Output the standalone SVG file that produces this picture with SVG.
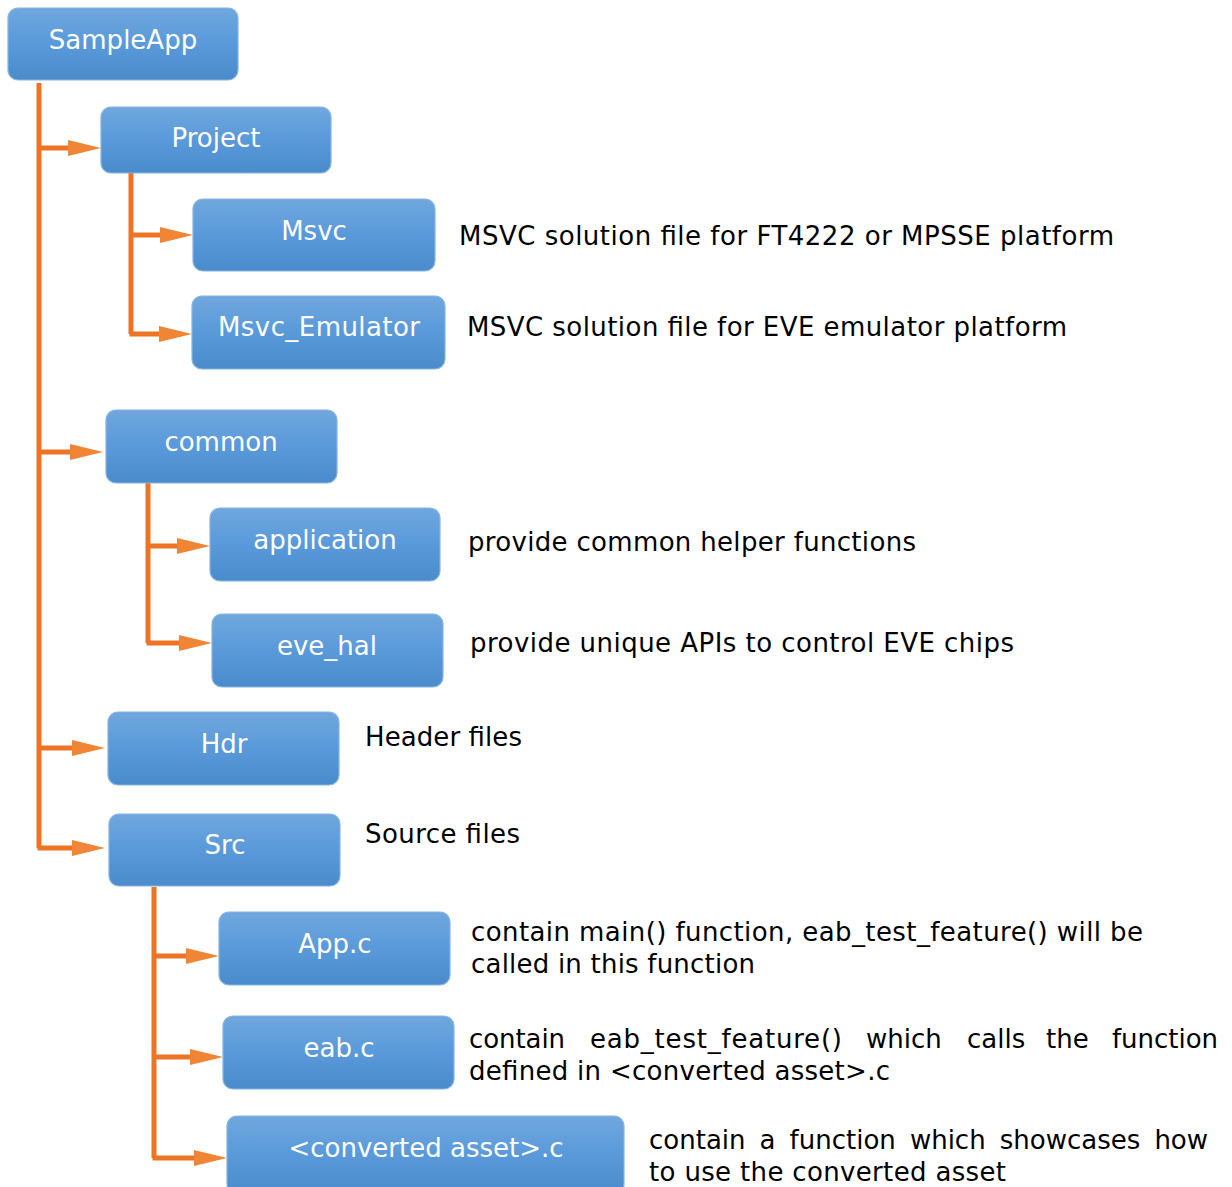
<svg xmlns="http://www.w3.org/2000/svg" width="1232" height="1187" viewBox="0 0 1232 1187">
<defs>
<linearGradient id="bg" x1="0" y1="0" x2="0" y2="1">
<stop offset="0" stop-color="#70A7DD"/>
<stop offset="0.45" stop-color="#5B9BDB"/>
<stop offset="1" stop-color="#4A8BCB"/>
</linearGradient>
<marker id="ah" markerUnits="userSpaceOnUse" markerWidth="36" markerHeight="18" viewBox="0 -9 36 18" refX="3" refY="0" orient="auto">
<path d="M0,-8 L33,0 L0,8 z" fill="#F08536"/>
</marker>
<style>
.box{fill:url(#bg);stroke:#86B4E3;stroke-width:1.2}
.lbl{font-family:"DejaVu Sans",Verdana,sans-serif;font-size:26px;fill:#ffffff;text-anchor:middle}
.desc{font-family:"DejaVu Sans",Verdana,sans-serif;font-size:26px;fill:#000000}
.ln{fill:none;stroke:#EC7424;stroke-width:5}
.br{fill:none;stroke:#EC7424;stroke-width:5;marker-end:url(#ah)}
</style>
</defs>
<g id="connectors">
<path class="ln" d="M39,83 V848"/>
<path class="br" d="M39,148 H71"/>
<path class="br" d="M39,452 H73"/>
<path class="br" d="M39,748 H75"/>
<path class="br" d="M37.5,848 H75"/>
<path class="ln" d="M131,171 V334"/>
<path class="br" d="M131,235 H163"/>
<path class="br" d="M129.5,334 H162"/>
<path class="ln" d="M148,483 V643"/>
<path class="br" d="M148,546 H180"/>
<path class="br" d="M146.5,643 H182"/>
<path class="ln" d="M154,887 V1158"/>
<path class="br" d="M154,956 H189"/>
<path class="br" d="M154,1057 H193"/>
<path class="br" d="M152.5,1158 H197"/>
</g>
<g id="n-sampleapp"><rect class="box" x="8" y="8" width="230" height="72" rx="10"/><text class="lbl" x="123" y="49">SampleApp</text></g>
<g id="n-project"><rect class="box" x="101" y="107" width="230" height="66" rx="10"/><text class="lbl" x="216" y="147">Project</text></g>
<g id="n-msvc"><rect class="box" x="193" y="199" width="242" height="72" rx="10"/><text class="lbl" x="314" y="240">Msvc</text></g>
<g id="n-msvc-emulator"><rect class="box" x="192" y="296" width="253" height="73" rx="10"/><text class="lbl" x="319" y="336" textLength="202" lengthAdjust="spacing">Msvc_Emulator</text></g>
<g id="n-common"><rect class="box" x="106" y="410" width="231" height="73" rx="10"/><text class="lbl" x="221" y="451">common</text></g>
<g id="n-application"><rect class="box" x="210" y="508" width="230" height="73" rx="10"/><text class="lbl" x="325" y="549">application</text></g>
<g id="n-eve-hal"><rect class="box" x="212" y="614" width="231" height="73" rx="10"/><text class="lbl" x="327" y="655">eve_hal</text></g>
<g id="n-hdr"><rect class="box" x="108" y="712" width="231" height="73" rx="10"/><text class="lbl" x="224" y="753">Hdr</text></g>
<g id="n-src"><rect class="box" x="109" y="814" width="231" height="72" rx="10"/><text class="lbl" x="225" y="854">Src</text></g>
<g id="n-app-c"><rect class="box" x="219" y="912" width="231" height="73" rx="10"/><text class="lbl" x="335" y="953">App.c</text></g>
<g id="n-eab-c"><rect class="box" x="223" y="1016" width="231" height="73" rx="10"/><text class="lbl" x="339" y="1057">eab.c</text></g>
<g id="n-converted"><rect class="box" x="227" y="1116" width="397" height="78" rx="10"/><text class="lbl" x="426" y="1157">&lt;converted asset&gt;.c</text></g>
<g id="descriptions">
<text class="desc" x="459" y="245" textLength="655" lengthAdjust="spacing">MSVC solution file for FT4222 or MPSSE platform</text>
<text class="desc" x="467" y="336" textLength="600" lengthAdjust="spacing">MSVC solution file for EVE emulator platform</text>
<text class="desc" x="468" y="551" textLength="448" lengthAdjust="spacing">provide common helper functions</text>
<text class="desc" x="470" y="652" textLength="544" lengthAdjust="spacing">provide unique APIs to control EVE chips</text>
<text class="desc" x="365" y="746" textLength="157" lengthAdjust="spacing">Header files</text>
<text class="desc" x="365" y="843" textLength="155" lengthAdjust="spacing">Source files</text>
<text class="desc" x="471" y="941" textLength="672" lengthAdjust="spacing">contain main() function, eab_test_feature() will be</text>
<text class="desc" x="471" y="973" textLength="284" lengthAdjust="spacing">called in this function</text>
<text class="desc" y="1048"><tspan x="469" textLength="96">contain</tspan><tspan x="590" textLength="252" lengthAdjust="spacing">eab_test_feature()</tspan><tspan x="866">which</tspan><tspan x="967">calls</tspan><tspan x="1046">the</tspan><tspan x="1112" textLength="106">function</tspan></text>
<text class="desc" x="469" y="1080" textLength="421" lengthAdjust="spacing">defined in &lt;converted asset&gt;.c</text>
<text class="desc" y="1149"><tspan x="649">contain</tspan><tspan x="759.6">a</tspan><tspan x="789.6">function</tspan><tspan x="909.9">which</tspan><tspan x="999.8">showcases</tspan><tspan x="1154.4">how</tspan></text>
<text class="desc" x="649" y="1181" textLength="357" lengthAdjust="spacing">to use the converted asset</text>
</g>
</svg>
